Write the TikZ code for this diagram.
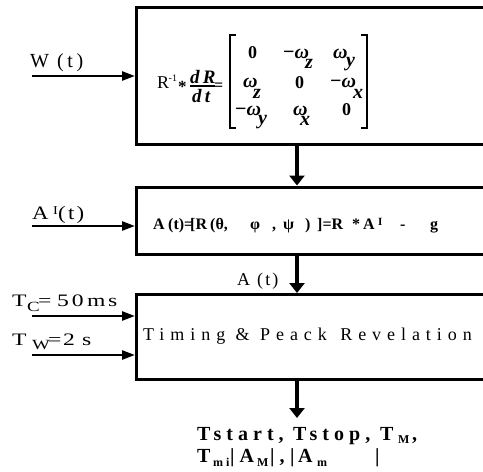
\documentclass[tikz,border=0pt]{standalone}
\usepackage{fontspec}
\setmainfont{Liberation Serif}
\usetikzlibrary{arrows.meta}
\tikzset{
  blk/.style={draw, line width=3pt, inner sep=0pt, anchor=north west},
  vflow/.style={line width=4pt, -{Triangle[length=10pt,width=15pt]}},
  hin/.style={line width=2.5pt, -{Triangle[length=13pt,width=9pt]}},
  lbl/.style={inner sep=0pt, anchor=base west, font=\fontsize{19}{19}\selectfont},
  ent/.style={inner sep=0pt, anchor=base west, font=\bfseries\fontsize{18}{18}\selectfont},
  wen/.style={inner sep=0pt, anchor=base west, font=\bfseries\itshape\fontsize{20}{20}\selectfont},
  brk/.style={line width=1.4pt},
  txt/.style={inner sep=0pt, anchor=base west},
}
\newcommand{\pc}[2]{\makebox[#1pt][l]{#2}}
\newcommand{\lowr}[3]{\raisebox{-#1pt}{\fontsize{#2}{#2}\selectfont #3}}
\begin{document}
\begin{tikzpicture}[x=1pt,y=-1pt]
\useasboundingbox (0,0) rectangle (483,472);
\clip (0,0) rectangle (483,472);
% boxes
\node[blk, minimum width=360pt, minimum height=137pt] (b1) at (135,6) {};
\node[blk, minimum width=360pt, minimum height=67.5pt] (b2) at (135,185.5) {};
\node[blk, minimum width=360pt, minimum height=85pt] (b3) at (135,293) {};
\coordinate (ax) at (297,0);
\coordinate (out) at (297,418);
% vertical flow
\draw[vflow] (b1.south -| ax) -- (b2.north -| ax);
\draw[vflow] (b2.south -| ax) -- (b3.north -| ax);
\draw[vflow] (b3.south -| ax) -- (out);
% inputs
\coordinate (iw) at (32,76);
\coordinate (ia) at (32,226);
\coordinate (ic) at (32,316);
\coordinate (it) at (32,355);
\draw[hin] (iw) -- (b1.west |- iw);
\draw[hin] (ia) -- (b2.west |- ia);
\draw[hin] (ic) -- (b3.west |- ic);
\draw[hin] (it) -- (b3.west |- it);
% input labels
\node[lbl, font=\fontsize{20}{20}\selectfont] (lw) at (30,67)
  {\pc{27}{W}\addfontfeatures{LetterSpace=18}(t)};
\node[lbl, font=\fontsize{19}{19}\selectfont] (la) at (32,219)
  {\addfontfeatures{FakeStretch=1.2}\pc{21}{A}\pc{5}{\raisebox{5pt}{\fontsize{12}{12}\selectfont I}}\addfontfeatures{LetterSpace=12}(t)};
\node[lbl, font=\fontsize{17.5}{17.5}\selectfont] (lc) at (12,306)
  {\addfontfeatures{FakeStretch=1.35}\pc{15}{T}\pc{11}{\lowr{5}{14}{C}}\pc{19}{=}\pc{30}{5\,0}\pc{21}{m}s};
\node[lbl, font=\fontsize{17.5}{17.5}\selectfont] (lt) at (12,345)
  {\addfontfeatures{FakeStretch=1.35}\pc{20}{T}\pc{16}{\lowr{4}{14}{W}}\pc{15}{=}\pc{19}{2}s};
\node[lbl, font=\fontsize{18}{18}\selectfont] (lat) at (237,285)
  {\pc{20}{A}\addfontfeatures{LetterSpace=12}(t)};
% LHS of equation
\node[txt, font=\fontsize{18}{18}\selectfont] (r) at (157,88) {R};
\node[txt, font=\fontsize{10}{10}\selectfont] (rm) at (168.5,81) {-1};
\node[txt, font=\bfseries\fontsize{17}{17}\selectfont] (ast) at (178,92) {*};
\node[txt, font=\bfseries\itshape\fontsize{19}{19}\selectfont] (dr) at (190,83) {d\,R};
\node[txt, font=\bfseries\itshape\fontsize{19}{19}\selectfont] (dt) at (192,102) {d\,t};
\coordinate (fb1) at (190,86);
\coordinate (fb2) at (215,86);
\draw[line width=1.2pt] (fb1) -- (fb2);
\node[txt, font=\bfseries\fontsize{16}{16}\selectfont] (eq) at (214,90) {=};
% brackets
\coordinate (lb1) at (236,35); \coordinate (lb2) at (230,35);
\coordinate (lb3) at (230,128); \coordinate (lb4) at (236,128);
\draw[brk] (lb1) -- (lb2) -- (lb3) -- (lb4);
\coordinate (rb1) at (361,35); \coordinate (rb2) at (367,35);
\coordinate (rb3) at (367,128); \coordinate (rb4) at (361,128);
\draw[brk] (rb1) -- (rb2) -- (rb3) -- (rb4);
% matrix entries
\node[ent] (m11) at (248,58) {0};
\node[wen] (m12) at (283,58) {\upshape−\itshape ω};
\node[wen] (m12s) at (305,68) {z};
\node[wen] (m13) at (333,58) {ω};
\node[wen] (m13s) at (346,66) {y};
\node[wen] (m21) at (243,87) {ω};
\node[wen] (m21s) at (253,98) {z};
\node[ent] (m22) at (295,88) {0};
\node[wen] (m23) at (330,87) {\upshape−\itshape ω};
\node[wen] (m23s) at (353,98) {x};
\node[wen] (m31) at (235,115) {\upshape−\itshape ω};
\node[wen] (m31s) at (258,124) {y};
\node[wen] (m32) at (293,115) {ω};
\node[wen] (m32s) at (300,125) {x};
\node[ent] (m33) at (342,115) {0};
% box 2 text
\node[txt, font=\bfseries\fontsize{16}{16}\selectfont] (t2) at (153,229.5)
  {\pc{15}{A}\pc{22}{(t)=}\pc{20}{[R}\pc{40}{(θ,}\pc{22}{φ}\pc{11}{,}\pc{22}{ψ}\pc{12}{)}\pc{35}{]=R}\pc{11}{*}\pc{15}{A}\pc{22}{\raisebox{4pt}{\fontsize{11}{11}\selectfont I}}\pc{30}{-}g};
% box 3 text
\node[txt, font=\fontsize{18}{18}\selectfont] (t3) at (143,340)
  {\addfontfeatures{LetterSpace=33}Timing \& Peack\, Revelation};
% output
\node[txt, font=\bfseries\fontsize{20}{20}\selectfont] (o1) at (197,440)
  {\addfontfeatures{LetterSpace=25}\pc{96}{Tstart,}\pc{87}{Tstop,}\pc{18}{T}\pc{14}{\lowr{3}{12}{M}},};
\node[txt, font=\bfseries\fontsize{20}{20}\selectfont] (o2) at (197,462)
  {\addfontfeatures{LetterSpace=25}\pc{16}{T}\pc{17}{\lowr{4}{12}{mi}}\pc{27}{|A}\pc{13}{\lowr{4}{12}{M}}\pc{20}{|,}\pc{8}{|}\pc{19}{A}\pc{58}{\lowr{4}{12}{m}}|};
\end{tikzpicture}
\end{document}
